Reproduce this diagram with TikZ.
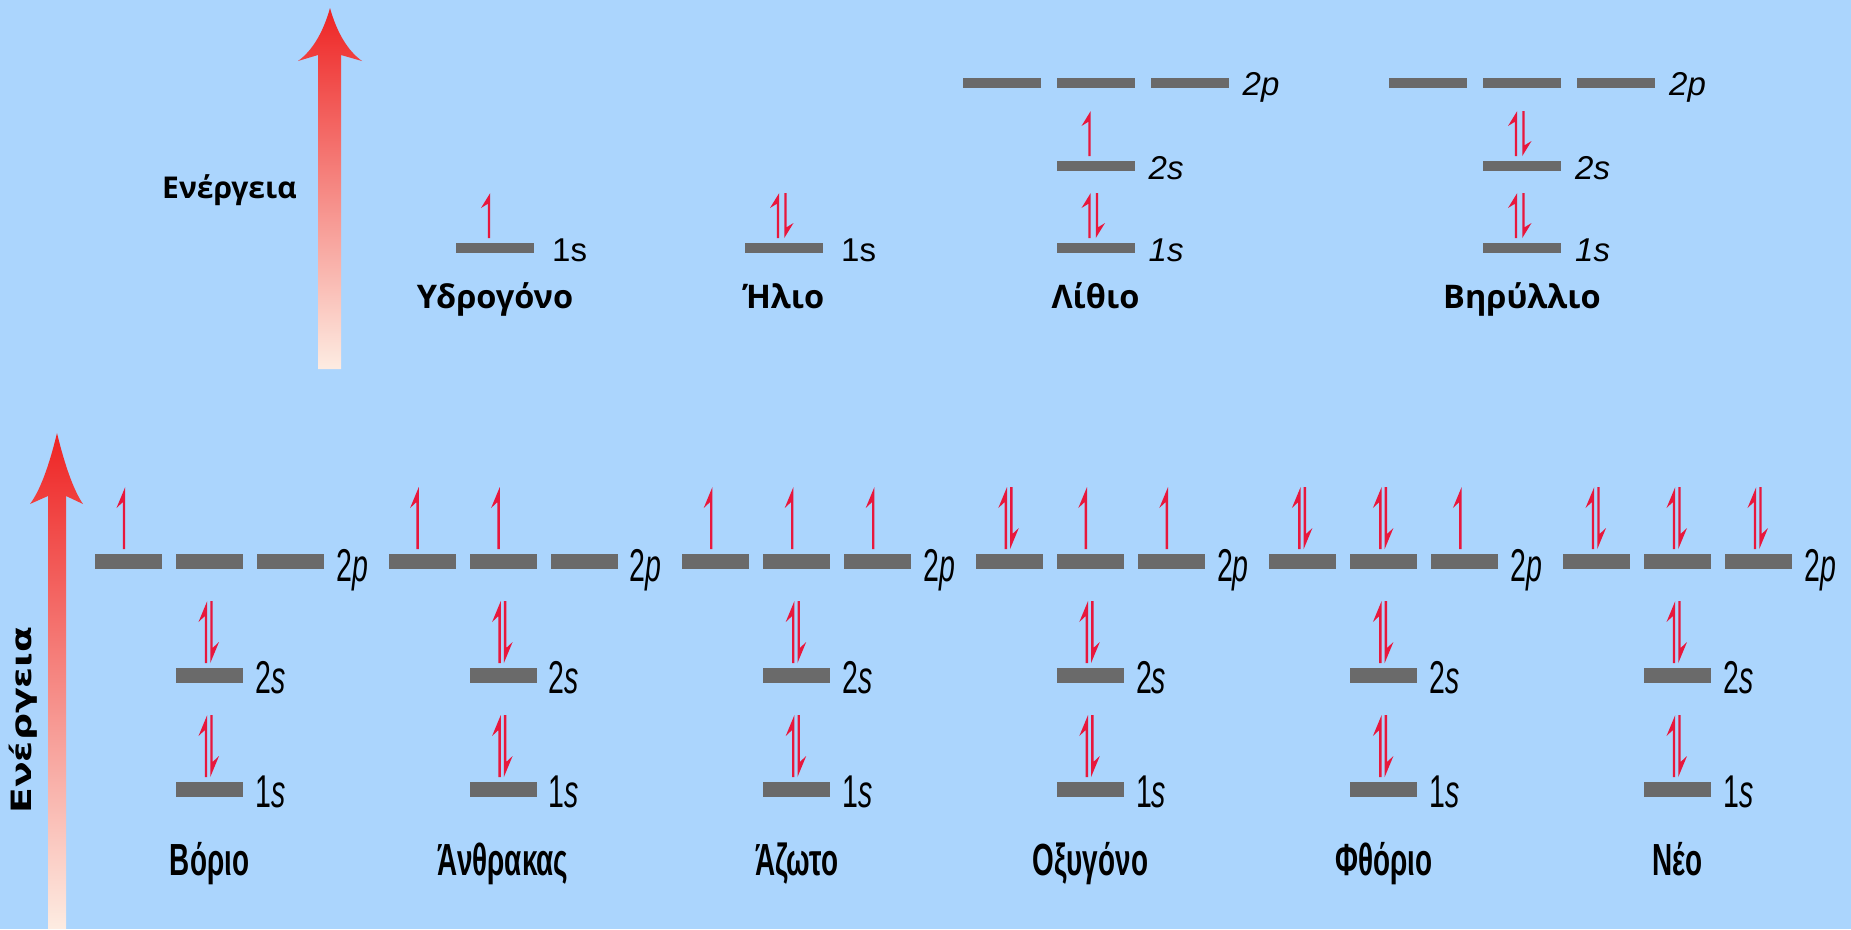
\documentclass[tikz,border=0pt]{standalone}
\usepackage{fontspec}
\setmainfont{Liberation Sans}
\newfontfamily\condfont[FakeStretch=0.62]{Liberation Sans}
\newfontfamily\widefont[FakeStretch=1.35]{DejaVu Sans}
\newfontfamily\notofont{Open Sans}
\definecolor{bgblue}{RGB}{171,213,253}
\definecolor{bargray}{RGB}{106,106,106}
\definecolor{ered}{RGB}{232,23,60}
\definecolor{arrtop}{RGB}{238,36,36}
\definecolor{arrbot}{RGB}{253,236,226}
\tikzset{
  barT/.style={rectangle, fill=bargray, draw=none, minimum width=78pt, minimum height=10pt, inner sep=0pt, outer sep=0pt},
  barB/.style={rectangle, fill=bargray, draw=none, minimum width=67pt, minimum height=15pt, inner sep=0pt, outer sep=0pt},
  lvlT/.style={font=\fontsize{33}{36}\selectfont, inner sep=0pt, anchor=base west},
  lvlB/.style={font=\condfont\fontsize{46}{50}\selectfont, inner sep=0pt, anchor=base west},
  nameT/.style={font=\notofont\bfseries\fontsize{32.5}{36}\selectfont, inner sep=0pt, anchor=base},
  nameB/.style={font=\condfont\bfseries\fontsize{45}{50}\selectfont, inner sep=0pt, anchor=base},
  energy/.style={shade, top color=arrtop, bottom color=arrbot, draw=none},
}
% harpoon up: x, ytop, ybottom, head length, barb width
\newcommand\harpup[5]{\fill[ered] ({#1+1.2},{#2}) -- ({#1-#5},{#2+#4}) -- ({#1-1.2},{#2+#4*0.72}) -- ({#1-1.2},{#3}) -- ({#1+1.2},{#3}) -- cycle;}
% harpoon down
\newcommand\harpdown[5]{\fill[ered] ({#1-1.2},{#3}) -- ({#1+#5},{#3-#4}) -- ({#1+1.2},{#3-#4*0.72}) -- ({#1+1.2},{#2}) -- ({#1-1.2},{#2}) -- cycle;}
% bottom-row occupancy: x (bar centre), y (bar centre), number of electrons
\newcommand\occB[3]{\ifcase#3\or
  \harpup{#1-4.5}{#2-74}{#2-12}{21}{7.5}\or
  \harpup{#1-3.5}{#2-74}{#2-12}{21}{7.5}\harpdown{#1+2}{#2-74}{#2-12}{21}{7.5}\fi}
\begin{document}
\begin{tikzpicture}[x=1pt,y=-1pt]
\useasboundingbox (0,0) rectangle (1851,929);
\fill[bgblue] (0,0) rectangle (1851,929);

% ---------- energy arrows ----------
\path[energy] (330,8) .. controls (323,33) and (312,51) .. (298,61) -- (318,55) -- (318,369) -- (341,369) -- (341,55) -- (362,61) .. controls (348,51) and (337,33) .. (330,8) -- cycle;
\node[font=\notofont\bfseries\fontsize{30}{34}\selectfont, inner sep=0pt] (ET) at (229.5,190) {Ενέργεια};

\path[energy] (57,433) .. controls (51,458) and (42,488) .. (30,504) -- (48,496) -- (48,929) -- (66,929) -- (66,496) -- (83,504) .. controls (72,488) and (63,458) .. (57,433) -- cycle;
\node[font=\widefont\bfseries\fontsize{28}{30}\selectfont, inner sep=0pt, rotate=90] (EL) at (23,720) {Ενέργεια};

% ---------- top row ----------
% Hydrogen
\node[barT] (H1s) at (495,248) {};
\harpup{489}{193}{238}{15}{8}
\node[lvlT] (H1sl) at ([xshift=18pt,yshift=-13pt]H1s.east) {1s};
\node[nameT] (Hn) at (495,308) {Υδρογόνο};
% Helium
\node[barT] (He1s) at (784,248) {};
\harpup{778}{193}{238}{15}{8}
\harpdown{785.5}{193}{238}{15}{8}
\node[lvlT] (He1sl) at ([xshift=18pt,yshift=-13pt]He1s.east) {1s};
\node[nameT] (Hen) at (784,308) {Ήλιο};
% Lithium
\node[barT] (Li1s) at (1095.5,248) {};
\node[barT] (Li2s) at (1095.5,166) {};
\node[barT] (Li2pa) at (1001.5,83) {};
\node[barT] (Li2pb) at (1095.5,83) {};
\node[barT] (Li2pc) at (1189.5,83) {};
\harpup{1089.5}{193}{238}{15}{8}
\harpdown{1097}{193}{238}{15}{8}
\harpup{1089.5}{111}{156}{15}{8}
\node[lvlT] (Li1sl) at ([xshift=14pt,yshift=-13pt]Li1s.east) {\itshape 1s};
\node[lvlT] (Li2sl) at ([xshift=14pt,yshift=-13pt]Li2s.east) {\itshape 2s};
\node[lvlT] (Li2pl) at ([xshift=14pt,yshift=-12pt]Li2pc.east) {\itshape 2p};
\node[nameT] (Lin) at (1095.5,308) {Λίθιο};
% Beryllium
\node[barT] (Be1s) at (1522,248) {};
\node[barT] (Be2s) at (1522,166) {};
\node[barT] (Be2pa) at (1428,83) {};
\node[barT] (Be2pb) at (1522,83) {};
\node[barT] (Be2pc) at (1616,83) {};
\harpup{1516}{193}{238}{15}{8}
\harpdown{1523.5}{193}{238}{15}{8}
\harpup{1516}{111}{156}{15}{8}
\harpdown{1523.5}{111}{156}{15}{8}
\node[lvlT] (Be1sl) at ([xshift=14pt,yshift=-13pt]Be1s.east) {\itshape 1s};
\node[lvlT] (Be2sl) at ([xshift=14pt,yshift=-13pt]Be2s.east) {\itshape 2s};
\node[lvlT] (Be2pl) at ([xshift=14pt,yshift=-12pt]Be2pc.east) {\itshape 2p};
\node[nameT] (Ben) at (1522,308) {Βηρύλλιο};

% ---------- bottom row ----------
\foreach \k/\nm/\pa/\pb/\pc in {0/Βόριο/1/0/0, 1/Άνθρακας/1/1/0, 2/Άζωτο/1/1/1, 3/Οξυγόνο/2/1/1, 4/Φθόριο/2/2/1, 5/Νέο/2/2/2}{
  \pgfmathsetmacro\cx{209.5+293.6*\k}
  \node[barB] (g\k pa) at (\cx-81,561) {};
  \node[barB] (g\k pb) at (\cx,561) {};
  \node[barB] (g\k pc) at (\cx+81,561) {};
  \node[barB] (g\k s2) at (\cx,675) {};
  \node[barB] (g\k s1) at (\cx,789) {};
  \occB{\cx-81}{561}{\pa}
  \occB{\cx}{561}{\pb}
  \occB{\cx+81}{561}{\pc}
  \occB{\cx}{675}{2}
  \occB{\cx}{789}{2}
  \node[lvlB] (g\k pl) at ([xshift=12pt,yshift=-20pt]g\k pc.east) {2\textit{p}};
  \node[lvlB] (g\k s2l) at ([xshift=12pt,yshift=-18pt]g\k s2.east) {2\textit{s}};
  \node[lvlB] (g\k s1l) at ([xshift=12pt,yshift=-18pt]g\k s1.east) {1\textit{s}};
  \node[nameB] (g\k n) at (\cx,875) {\nm};
}
\end{tikzpicture}
\end{document}
